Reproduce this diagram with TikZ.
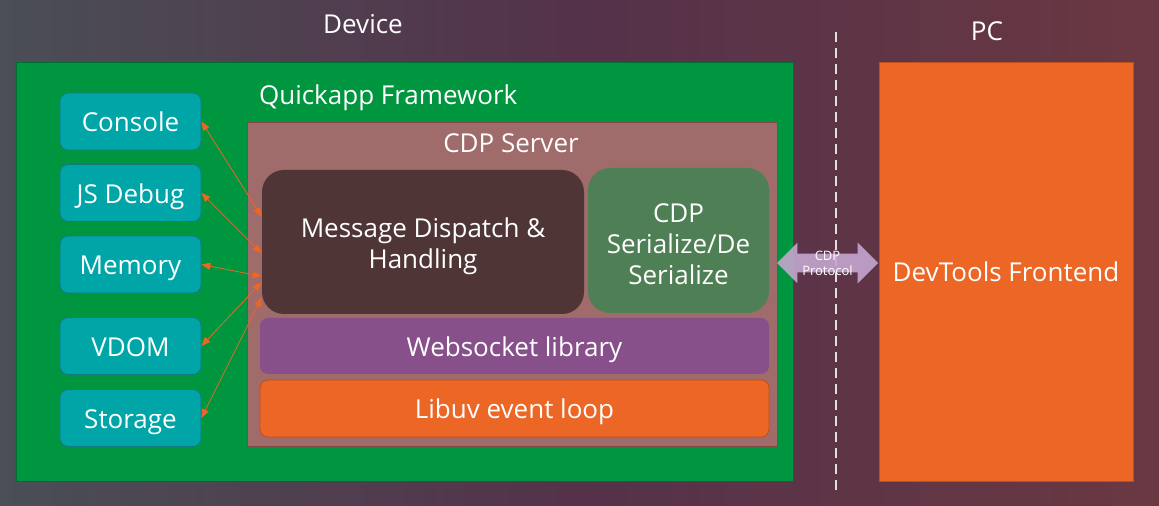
\documentclass[tikz,border=0pt]{standalone}
\usepackage{fontspec}
\setmainfont{Open Sans}
\usetikzlibrary{arrows.meta,shapes.arrows}
\definecolor{bgleft}{RGB}{74,78,86}
\definecolor{bgmid}{RGB}{84,50,74}
\definecolor{bgright}{RGB}{106,56,66}
\definecolor{framegreen}{RGB}{0,150,64}
\definecolor{frameline}{RGB}{0,110,50}
\definecolor{toolteal}{RGB}{0,165,168}
\definecolor{toolline}{RGB}{20,120,130}
\definecolor{serverrose}{RGB}{160,107,107}
\definecolor{serverline}{RGB}{130,75,65}
\definecolor{dispbrown}{RGB}{79,53,53}
\definecolor{sergreen}{RGB}{79,127,85}
\definecolor{wspurple}{RGB}{136,80,138}
\definecolor{uvorange}{RGB}{236,102,37}
\definecolor{uvline}{RGB}{190,80,30}
\definecolor{protolilac}{RGB}{196,166,206}
\begin{document}
\begin{tikzpicture}[x=0.5pt,y=-0.5pt,
    every node/.style={text=white},
    big/.style={font=\fontsize{13}{15.5}\selectfont},
    oneline/.style={text height=12pt, text depth=1.5pt},
    tool/.style={big, oneline, draw=toolline, fill=toolteal, rounded corners=4pt,
      minimum width=70.5pt, minimum height=28.5pt, inner sep=0pt},
    layer/.style={big, align=center, inner sep=0pt},
    conn/.style={draw=uvorange, line width=0.4pt,
      {Triangle[length=4.5pt,width=3.5pt]}-{Triangle[length=4.5pt,width=3.5pt]}}]
  % background
  \useasboundingbox (0,0) rectangle (1159,506);
  \shade[left color=bgleft, right color=bgright, middle color=bgmid]
    (0,0) rectangle (1159,506);
  \draw[white!75!gray, line width=1pt, dash pattern=on 5pt off 3pt]
    (836,32) -- (836,495);
  % titles
  \node[big] (device) at (363,24) {Device};
  \node[big] (pc) at (987,31) {PC};
  % device side
  \node[draw=frameline, fill=framegreen, minimum width=388.5pt,
    minimum height=209.5pt] (quickapp) at (404.5,271.5) {};
  \node[big, anchor=west] (qalabel) at (252,98) {Quickapp Framework};
  \node[tool] (console) at (130.5,121.5) {Console};
  \node[tool] (jsdebug) at (130.5,193) {JS Debug};
  \node[tool] (memory) at (130.5,264.5) {Memory};
  \node[tool] (vdom) at (130.5,346) {VDOM};
  \node[tool] (storage) at (130.5,418) {Storage};
  \node[draw=serverline, fill=serverrose, minimum width=265pt,
    minimum height=162pt] (server) at (512,284) {};
  \node[big] (srvlabel) at (511,143) {CDP Server};
  \node[layer, fill=dispbrown, rounded corners=11pt, minimum width=161pt,
    minimum height=72pt] (dispatch) at (423,242)
    {\rule{0pt}{14pt}Message Dispatch \&\\Handling};
  \node[layer, fill=sergreen, rounded corners=11pt, minimum width=90.5pt,
    minimum height=72.5pt] (serialize) at (678.5,240.5)
    {\rule{0pt}{13.5pt}CDP\\Serialize/De\\Serialize};
  \node[layer, oneline, fill=wspurple, rounded corners=4pt,
    minimum width=254.5pt, minimum height=28pt] (websocket) at (514.5,346)
    {Websocket library};
  \node[layer, oneline, draw=uvline, fill=uvorange, rounded corners=4pt,
    minimum width=254.5pt, minimum height=28.5pt] (libuv) at (514.5,408.5)
    {Libuv event loop};
  % pc side
  \node[big, draw=uvline, fill=uvorange, minimum width=127pt,
    minimum height=209.5pt] (frontend) at (1006,271.5) {DevTools Frontend};
  \node[double arrow, fill=protolilac, fill opacity=0.9, inner sep=0pt,
    minimum height=50.5pt, double arrow head extend=5.5pt]
    (proto) at (827.5,263) {\rule{0pt}{9pt}};
  \node[font=\fontsize{6.5}{7.5}\selectfont, align=center]
    (protolabel) at (proto.center) {CDP\\Protocol};
  % tools to dispatcher
  \foreach \src/\ang in {console/171,jsdebug/184,memory/192,vdom/194,storage/199}
    \draw[conn] (\src.east) -- (dispatch.\ang);
\end{tikzpicture}
\end{document}
